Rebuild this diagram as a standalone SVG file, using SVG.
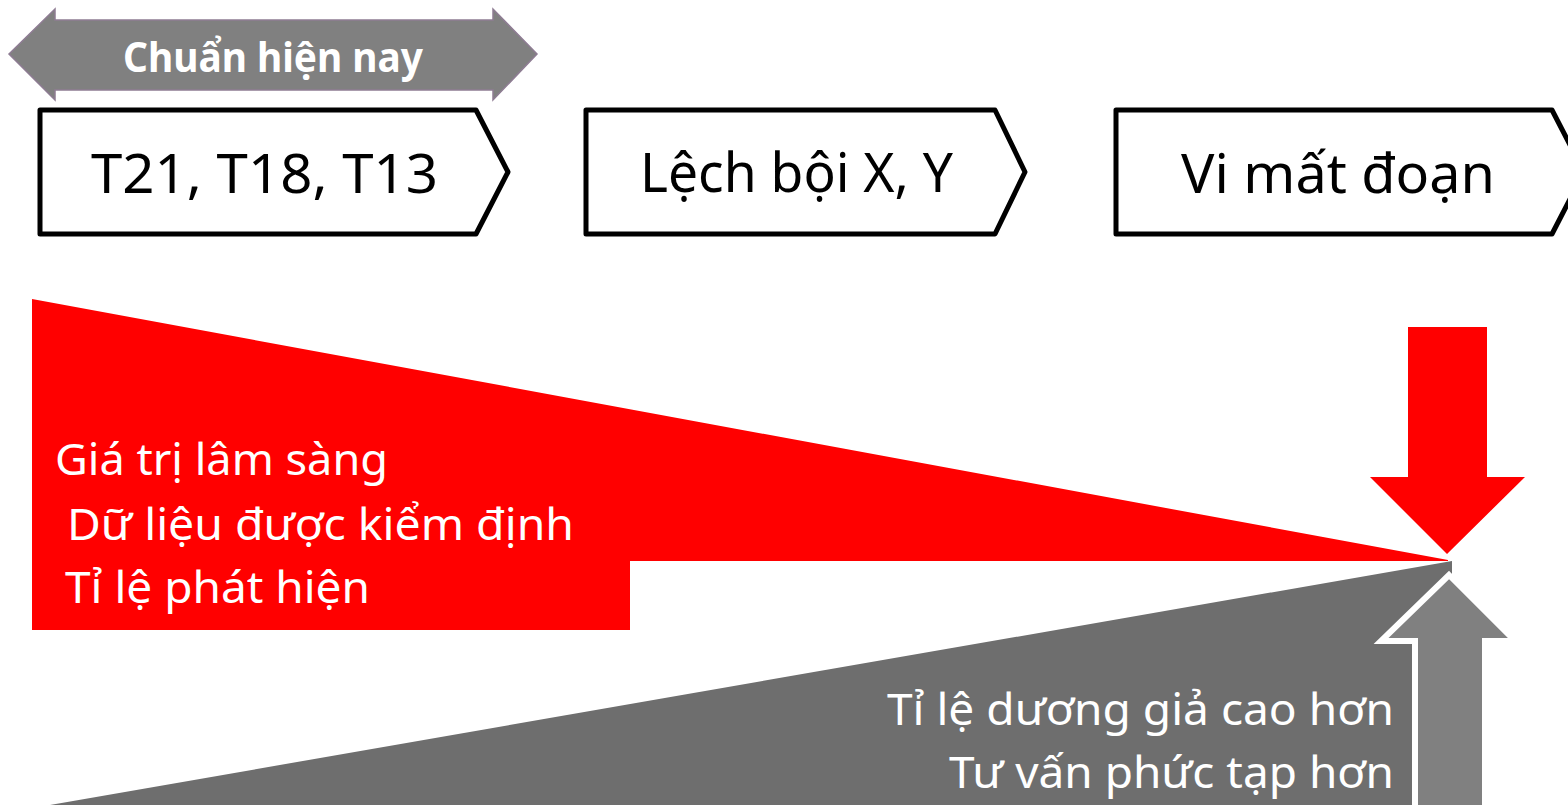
<svg xmlns="http://www.w3.org/2000/svg" width="1568" height="805" viewBox="0 0 1568 805">
  <style>
    .box { fill: #ffffff; stroke: #000000; stroke-width: 5; stroke-linejoin: round; }
    .boxtxt { font-family: "Noto Sans", "Open Sans", sans-serif; font-size: 55px; fill: #000000; }
    .wtxt { font-family: "Noto Sans", "Open Sans", sans-serif; font-size: 44px; fill: #ffffff; }
    .btxt { font-family: "Noto Sans", "Open Sans", sans-serif; font-size: 41px; font-weight: bold; fill: #ffffff; }
    .red { fill: #ff0000; }
    .dark { fill: #6e6e6e; }
  </style>
  <rect width="1568" height="805" fill="#ffffff"/>

  <g id="standard-range">
    <polygon points="9,54 55,9 55,20 493,20 493,9 537,54 493,100 493,90 55,90 55,100" fill="#808080" stroke="#8e7c93" stroke-width="1.5"/>
    <text class="btxt" x="123" y="72" textLength="300" lengthAdjust="spacingAndGlyphs">Chuẩn hiện nay</text>
  </g>

  <g id="node-trisomy">
    <path class="box" d="M40,110 H476 L508,172 L476,234 H40 Z"/>
    <text class="boxtxt" x="91" y="193" textLength="347" lengthAdjust="spacingAndGlyphs">T21, T18, T13</text>
  </g>
  <g id="node-sex-aneuploidy">
    <path class="box" d="M586,110 H995 L1025,172 L995,234 H586 Z"/>
    <text class="boxtxt" x="640" y="192" textLength="313" lengthAdjust="spacingAndGlyphs">Lệch bội X, Y</text>
  </g>
  <g id="node-microdeletion">
    <path class="box" d="M1116,110 H1552 L1584,172 L1552,234 H1116 Z"/>
    <text class="boxtxt" x="1181" y="193" textLength="314" lengthAdjust="spacingAndGlyphs">Vi mất đoạn</text>
  </g>

  <g id="red-wedge">
    <polygon class="red" points="32,299 1448,560 1448,561 630,561 630,630 32,630"/>
    <text class="wtxt" x="55" y="475" textLength="333" lengthAdjust="spacingAndGlyphs">Giá trị lâm sàng</text>
    <text class="wtxt" x="67" y="540" textLength="507" lengthAdjust="spacingAndGlyphs">Dữ liệu được kiểm định</text>
    <text class="wtxt" x="65" y="603" textLength="305" lengthAdjust="spacingAndGlyphs">Tỉ lệ phát hiện</text>
  </g>

  <g id="gray-wedge">
    <polygon class="dark" points="50,805 1452,561 1452,805"/>
    <text class="wtxt" x="887" y="725" textLength="507" lengthAdjust="spacingAndGlyphs">Tỉ lệ dương giả cao hơn</text>
    <text class="wtxt" x="949" y="788" textLength="445" lengthAdjust="spacingAndGlyphs">Tư vấn phức tạp hơn</text>
  </g>

  <g id="connectors">
    <polygon class="red" points="1408,327 1487,327 1487,477 1525,477 1447,554 1370,477 1408,477"/>
    <polygon points="1449,575 1515,641 1485,641 1485,812 1415,812 1415,641 1381,641" fill="#808080" stroke="#ffffff" stroke-width="6" stroke-linejoin="miter"/>
  </g>
</svg>
